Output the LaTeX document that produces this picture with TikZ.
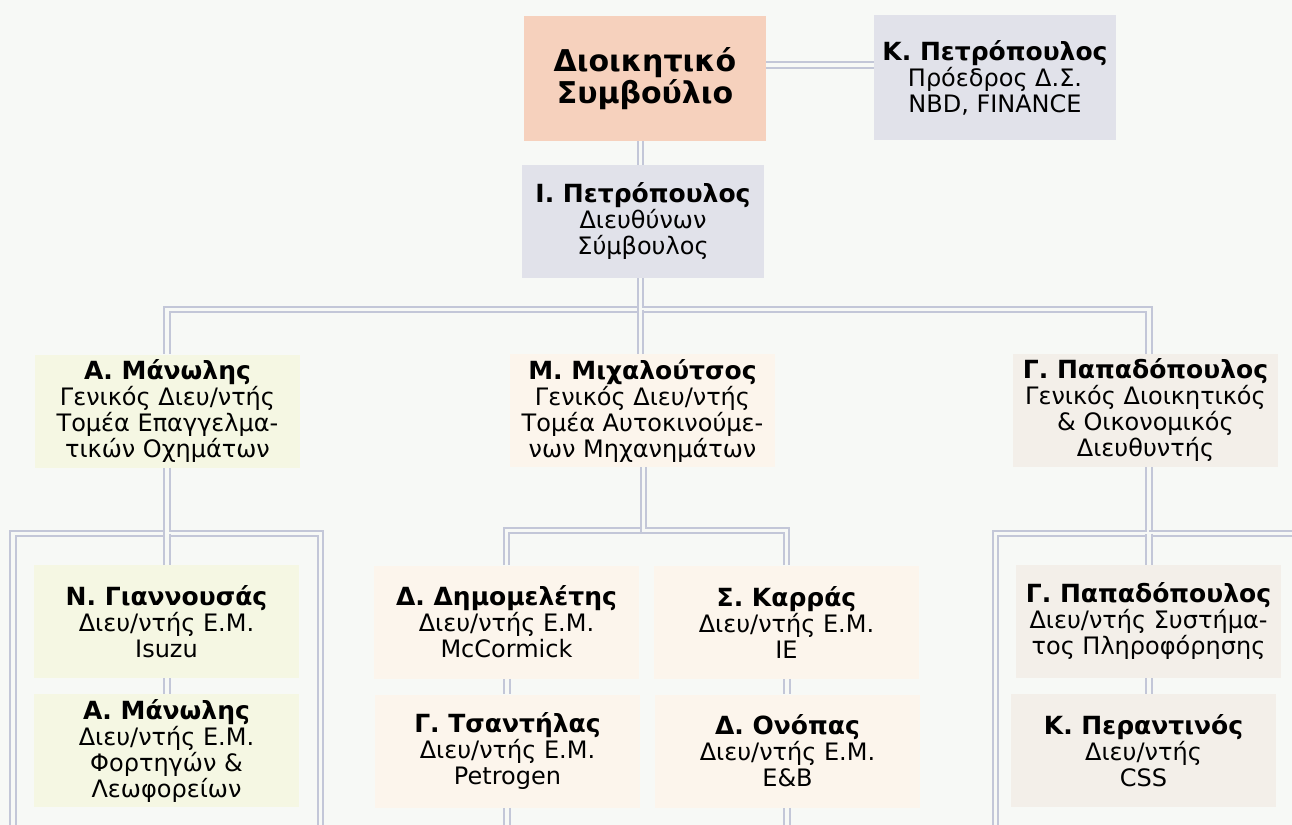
\documentclass[tikz,border=0pt]{standalone}
\usepackage{fontspec}
\setmainfont{DejaVu Sans}
\usepackage[HTML]{xcolor}
\usepackage{tikz}
\usetikzlibrary{positioning}

\definecolor{bgc}{HTML}{F7F9F6}
\definecolor{connc}{HTML}{C3C7D8}
\definecolor{titlec}{HTML}{F6D1BD}
\definecolor{greyc}{HTML}{E1E2EA}
\definecolor{yelc}{HTML}{F5F7E3}
\definecolor{peachc}{HTML}{FCF5EC}
\definecolor{beigec}{HTML}{F3EFE9}

\newcommand{\pname}[1]{{\fontsize{12.5}{13}\selectfont\bfseries #1}}

\begin{document}
\begin{tikzpicture}[x=0.5pt,y=-0.5pt,
  box/.style={rectangle,minimum width=132.5pt,minimum height=56.5pt,align=center,inner sep=2pt,
    font=\fontsize{12}{13}\selectfont,text=black},
  topbox/.style={box,minimum width=121pt},
  conn/.style={draw=connc,line width=1.1pt,double=bgc,double distance=1.7pt}]
\clip (0,0) rectangle (1292,825);
\fill[bgc] (0,0) rectangle (1292,825);

% --- board and CEO ---
\node[topbox,fill=titlec,minimum height=62.5pt,font=\fontsize{15}{15}\selectfont\bfseries] (dsb) at (645,78.5) {Διοικητικό\\Συμβούλιο};
\node[topbox,fill=greyc,minimum height=62.5pt] (kpetr) at (995,77.5) {\pname{Κ. Πετρόπουλος}\\Πρόεδρος Δ.Σ.\\NBD, FINANCE};
\node[topbox,fill=greyc] (ipetr) at (643,221.5) {\pname{Ι. Πετρόπουλος}\\Διευθύνων\\Σύμβουλος};

% --- general managers ---
\node[box,fill=yelc] (amanol) at (167.5,411) {\pname{Α. Μάνωλης}\\Γενικός Διευ/ντής\\Τομέα Επαγγελμα-\\τικών Οχημάτων};
\node[box,fill=peachc] (mmich) at (642.5,410.5) {\pname{Μ. Μιχαλούτσος}\\Γενικός Διευ/ντής\\Τομέα Αυτοκινούμε-\\νων Μηχανημάτων};
\node[box,fill=beigec] (gpapad) at (1145.5,410.5) {\pname{Γ. Παπαδόπουλος}\\Γενικός Διοικητικός\\\& Οικονομικός\\Διευθυντής};

% --- left branch ---
\node[box,fill=yelc] (ngian) at (166.5,621.5) {\pname{Ν. Γιαννουσάς}\\Διευ/ντής Ε.Μ.\\Isuzu};
\node[box,fill=yelc] (amanolb) at (166.5,750.5) {\pname{Α. Μάνωλης}\\Διευ/ντής Ε.Μ.\\Φορτηγών \&\\Λεωφορείων};

% --- middle branch ---
\node[box,fill=peachc] (ddim) at (506.5,622) {\pname{Δ. Δημομελέτης}\\Διευ/ντής Ε.Μ.\\McCormick};
\node[box,fill=peachc] (skar) at (786.5,622) {\pname{Σ. Καρράς}\\Διευ/ντής Ε.Μ.\\IE};
\node[box,fill=peachc] (gtsan) at (507.5,751) {\pname{Γ. Τσαντήλας}\\Διευ/ντής Ε.Μ.\\Petrogen};
\node[box,fill=peachc] (donop) at (787.5,751) {\pname{Δ. Ονόπας}\\Διευ/ντής Ε.Μ.\\E\&B};

% --- right branch ---
\node[box,fill=beigec] (gpapadb) at (1148.5,621.5) {\pname{Γ. Παπαδόπουλος}\\Διευ/ντής Συστήμα-\\τος Πληροφόρησης};
\node[box,fill=beigec] (kperan) at (1143.5,750.5) {\pname{Κ. Περαντινός}\\Διευ/ντής\\CSS};

% --- bus points ---
\coordinate (kline) at (820,65);
\coordinate (bus1) at (640.5,309.5);
\coordinate (busL) at (167,533.5);
\coordinate (busM) at (643.5,530.5);
\coordinate (busR) at (1149,533.5);
\coordinate (lout1) at (13,840);
\coordinate (lout2) at (320.5,840);
\coordinate (mout1) at (507,840);
\coordinate (mout2) at (787,840);
\coordinate (rout1) at (995.5,840);
\coordinate (rout2) at (1310,533.5);

% --- connectors ---
\draw[conn] (dsb.east |- kline) -- (kpetr.west |- kline);
\draw[conn] (dsb.south -| bus1) -- (ipetr.north -| bus1);
\draw[conn] (ipetr.south -| bus1) -- (bus1) -| (amanol.north -| busL);
\draw[conn] (ipetr.south -| bus1) -- (bus1) -| (gpapad.north -| busR);
\draw[conn] (bus1) -- (mmich.north -| bus1);

\draw[conn] (amanol.south -| busL) -- (busL) -| (lout1);
\draw[conn] (amanol.south -| busL) -- (busL) -| (lout2);
\draw[conn] (busL) -- (ngian.north -| busL);
\draw[conn] (ngian.south -| busL) -- (amanolb.north -| busL);

\draw[conn] (mmich.south -| busM) -- (busM) -| (ddim);
\draw[conn] (mmich.south -| busM) -- (busM) -| (skar);
\draw[conn] (ddim.south -| mout1) -- (gtsan.north -| mout1);
\draw[conn] (skar.south -| mout2) -- (donop.north -| mout2);
\draw[conn] (gtsan.south -| mout1) -- (mout1);
\draw[conn] (donop.south -| mout2) -- (mout2);

\draw[conn] (gpapad.south -| busR) -- (busR) -| (rout1);
\draw[conn] (busR) -- (rout2);
\draw[conn] (busR) -- (gpapadb.north -| busR);
\draw[conn] (gpapadb.south -| busR) -- (kperan.north -| busR);
\end{tikzpicture}
\end{document}
